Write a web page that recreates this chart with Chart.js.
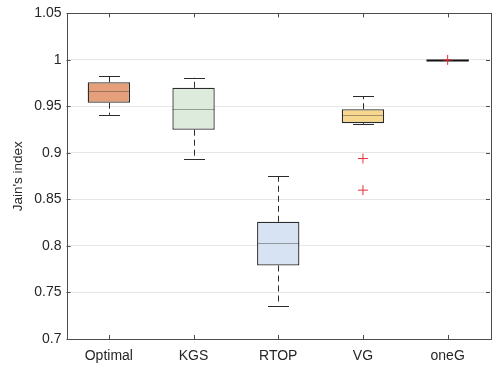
<!DOCTYPE html>
<html>
<head>
    <meta charset="UTF-8">
    <title>Jain's index</title>
    <script src="https://cdn.jsdelivr.net/npm/chart.js"></script>
    <style>
        body { margin: 0; background: #fff; }
        #wrap { width: 500px; height: 371px; }
    </style>
</head>
<body>
    <div id="wrap"><canvas id="boxChart" width="500" height="371"></canvas></div>
    <script>
        // data
        var categories = ['Optimal', 'KGS', 'RTOP', 'VG', 'oneG'];
        var whiskerLow = [0.941, 0.894, 0.736, 0.931, 1.0];
        var q1 = [0.954, 0.925, 0.779, 0.932, 1.0];
        var median = [0.967, 0.947, 0.803, 0.941, 1.0];
        var q3 = [0.976, 0.970, 0.826, 0.947, 1.0];
        var whiskerHigh = [0.983, 0.981, 0.875, 0.961, 1.0];
        var outlierCat = ['VG', 'VG', 'oneG'];
        var outlierVal = [0.894, 0.860, 1.0];
        var yTicks = [0.7, 0.75, 0.8, 0.85, 0.9, 0.95, 1, 1.05];

        var fills = ['#E5A07B', '#DDEBDD', '#D7E3F3', '#F7D78E', '#FFFFFF'];
        var edge = '#2b2b2b';

        var boxData = [];
        for (var i = 0; i < categories.length; i++) {
            boxData.push([q1[i], q3[i]]);
        }
        var outliers = [];
        for (var j = 0; j < outlierCat.length; j++) {
            outliers.push({ x: outlierCat[j], y: outlierVal[j] });
        }

        // whiskers, medians, frame and inward ticks (matlab look)
        var boxExtras = {
            id: 'boxExtras',
            beforeDatasetsDraw: function (chart) {
                var c = chart.ctx;
                var xs = chart.scales.x, ys = chart.scales.y;
                c.save();
                c.strokeStyle = edge;
                c.lineWidth = 1;
                for (var i = 0; i < categories.length; i++) {
                    if (whiskerHigh[i] === whiskerLow[i]) continue;
                    var x = Math.round(xs.getPixelForValue(i)) + 0.5;
                    c.setLineDash([6, 4]);
                    c.beginPath();
                    c.moveTo(x, ys.getPixelForValue(q3[i]));
                    c.lineTo(x, ys.getPixelForValue(whiskerHigh[i]));
                    c.moveTo(x, ys.getPixelForValue(q1[i]));
                    c.lineTo(x, ys.getPixelForValue(whiskerLow[i]));
                    c.stroke();
                    c.setLineDash([]);
                    c.beginPath();
                    var yh = Math.round(ys.getPixelForValue(whiskerHigh[i])) + 0.5;
                    var yl = Math.round(ys.getPixelForValue(whiskerLow[i])) + 0.5;
                    c.moveTo(x - 10.5, yh); c.lineTo(x + 10.5, yh);
                    c.moveTo(x - 10.5, yl); c.lineTo(x + 10.5, yl);
                    c.stroke();
                }
                c.restore();
            },
            afterDatasetDraw: function (chart, args) {
                if (args.index !== 0) return;
                var c = chart.ctx;
                var ys = chart.scales.y;
                var meta = chart.getDatasetMeta(0);
                c.save();
                for (var i = 0; i < categories.length; i++) {
                    var bar = meta.data[i];
                    var y = Math.round(ys.getPixelForValue(median[i])) + 0.5;
                    var flat = q1[i] === q3[i];
                    c.strokeStyle = flat ? '#111111' : 'rgba(60,60,60,0.45)';
                    c.lineWidth = flat ? 2 : 1;
                    c.beginPath();
                    c.moveTo(bar.x - bar.width / 2, y);
                    c.lineTo(bar.x + bar.width / 2, y);
                    c.stroke();
                }
                c.restore();
            },
            afterDatasetsDraw: function (chart) {
                var c = chart.ctx;
                var xs = chart.scales.x, ys = chart.scales.y;
                var a = chart.chartArea;
                c.save();
                c.strokeStyle = '#4d4d4d';
                c.lineWidth = 1;
                c.strokeRect(Math.round(a.left) + 0.5, Math.round(a.top) + 0.5,
                    Math.round(a.right - a.left), Math.round(a.bottom - a.top));
                c.beginPath();
                for (var k = 0; k < categories.length; k++) {
                    var tx = Math.round(xs.getPixelForValue(k)) + 0.5;
                    c.moveTo(tx, a.bottom); c.lineTo(tx, a.bottom - 4);
                    c.moveTo(tx, a.top); c.lineTo(tx, a.top + 4);
                }
                for (var t = 0; t < yTicks.length; t++) {
                    var ty = Math.round(ys.getPixelForValue(yTicks[t])) + 0.5;
                    c.moveTo(a.left, ty); c.lineTo(a.left + 4, ty);
                    c.moveTo(a.right, ty); c.lineTo(a.right - 4, ty);
                }
                c.stroke();
                c.restore();
            }
        };

        var ctx = document.getElementById('boxChart').getContext('2d');
        var boxChart = new Chart(ctx, {
            type: 'bar',
            data: {
                labels: categories,
                datasets: [{
                    label: 'box',
                    data: boxData,
                    backgroundColor: fills,
                    borderColor: edge,
                    borderWidth: 1.3,
                    borderSkipped: false,
                    barPercentage: 0.5,
                    categoryPercentage: 1.0,
                    order: 2
                }, {
                    type: 'scatter',
                    label: 'outliers',
                    data: outliers,
                    pointStyle: 'cross',
                    radius: 5,
                    borderColor: '#E8303A',
                    borderWidth: 1,
                    backgroundColor: '#E8303A',
                    order: 1
                }]
            },
            options: {
                responsive: false,
                animation: false,
                devicePixelRatio: 1,
                layout: { padding: { top: 13, right: 10, left: 0, bottom: 0 } },
                plugins: {
                    legend: { display: false },
                    tooltip: { enabled: false }
                },
                scales: {
                    x: {
                        type: 'category',
                        offset: true,
                        grid: { display: false, drawTicks: false },
                        border: { display: false },
                        ticks: {
                            color: '#262626',
                            padding: 9,
                            font: { family: 'Liberation Sans, Arial', size: 14 }
                        },
                        afterFit: function (s) { s.height = 32; }
                    },
                    y: {
                        min: 0.7,
                        max: 1.05,
                        afterBuildTicks: function (s) {
                            s.ticks = yTicks.map(function (v) { return { value: v }; });
                        },
                        grid: { color: '#e6e6e6', drawTicks: false },
                        border: { display: false },
                        ticks: {
                            color: '#262626',
                            padding: 5,
                            font: { family: 'Liberation Sans, Arial', size: 14 }
                        ,
                            callback: function (v) { return String(Number(v.toFixed(2))); }
                        },
                        title: {
                            display: true,
                            text: "Jain's index",
                            color: '#262626',
                            padding: { top: 10, bottom: 0 },
                            font: { family: 'Liberation Sans, Arial', size: 13.5 }
                        },
                        afterFit: function (s) { s.width = 66.5; }
                    }
                }
            },
            plugins: [boxExtras]
        });
    </script>
</body>
</html>
